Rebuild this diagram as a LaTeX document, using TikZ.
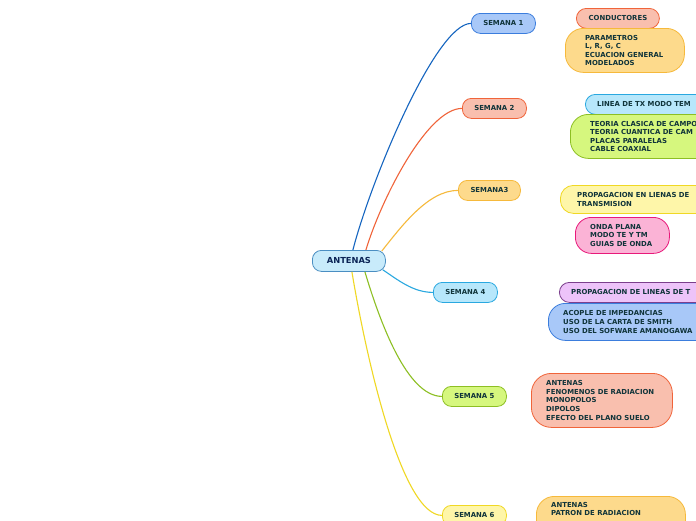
\documentclass[tikz,border=0pt]{standalone}
\usepackage{fontspec}
\setmainfont{DejaVu Sans}
\definecolor{txt}{HTML}{10343A}
\definecolor{roottxt}{HTML}{0B2456}
\definecolor{bluF}{HTML}{A8C8F8}\definecolor{bluD}{HTML}{3B7DDD}
\definecolor{redF}{HTML}{F9BFAE}\definecolor{redD}{HTML}{F0643A}
\definecolor{orgF}{HTML}{FDDA8C}\definecolor{orgD}{HTML}{F6B93B}
\definecolor{cyaF}{HTML}{B7E7FB}\definecolor{cyaD}{HTML}{29A8E0}
\definecolor{grnF}{HTML}{D6F77E}\definecolor{grnD}{HTML}{8DBF23}
\definecolor{yelF}{HTML}{FEF6A9}\definecolor{yelD}{HTML}{F0D824}
\definecolor{pnkF}{HTML}{FBB3D6}\definecolor{pnkD}{HTML}{E8197A}
\definecolor{purF}{HTML}{EDC3F9}\definecolor{purD}{HTML}{7B3F8C}
\definecolor{rootF}{HTML}{C8EBFB}\definecolor{rootD}{HTML}{4A8EC2}
\definecolor{e1}{HTML}{1565C0}
\newcommand\fsz{\fontsize{6.9}{8.6}\selectfont\bfseries}
\tikzset{
  every node/.style={font=\fsz, text=txt},
  pill/.style={draw, line width=0.8pt, rounded corners=#1, inner sep=0pt, anchor=north west},
  semana/.style={pill=9pt, minimum width=64pt, minimum height=20pt},
  ltext/.style={anchor=west, align=left, inner sep=0pt},
  edge/.style={line width=1.1pt},
}
\begin{document}
\begin{tikzpicture}[x=1pt,y=-1pt]
\useasboundingbox (0,0) rectangle (696,520);
\clip (0,0) rectangle (696,520);
\fill[white] (0,0) rectangle (696,520);

% root
\node[pill=9pt, fill=rootF, draw=rootD, minimum width=73pt, minimum height=21pt, font=\fontsize{8.3}{10}\selectfont\bfseries, text=roottxt] (root) at (312,250) {ANTENAS};

% semanas
\node[semana, fill=bluF, draw=bluD] (s1) at (471,13) {SEMANA 1};
\node[semana, fill=redF, draw=redD] (s2) at (462,98) {SEMANA 2};
\node[semana, minimum width=62pt, fill=orgF, draw=orgD] (s3) at (458,180) {SEMANA3};
\node[semana, fill=cyaF, draw=cyaD] (s4) at (433,282) {SEMANA 4};
\node[semana, fill=grnF, draw=grnD] (s5) at (442,386) {SEMANA 5};
\node[semana, fill=yelF, draw=yelD] (s6) at (442,505) {SEMANA 6};

% edges
\draw[edge, e1]   ([xshift=4pt]root.north) .. controls +(18,-70) and +(-35,0) .. (s1.west);
\draw[edge, redD] ([xshift=17pt]root.north) .. controls +(15,-50) and +(-35,0) .. (s2.west);
\draw[edge, orgD] ([xshift=-4pt,yshift=-1pt]root.north east) .. controls +(20,-25) and +(-30,0) .. (s3.west);
\draw[edge, cyaD] ([xshift=-3pt,yshift=2pt]root.south east) .. controls +(15,10) and +(-20,0) .. (s4.west);
\draw[edge, grnD] ([xshift=16pt]root.south) .. controls +(15,50) and +(-35,0) .. (s5.west);
\draw[edge, yelD] ([xshift=3pt]root.south) .. controls +(15,90) and +(-40,0) .. (s6.west);

% semana 1 children
\node[pill=10pt, fill=redF, draw=redD, minimum width=83pt, minimum height=20pt] (c1a) at (576,8) {CONDUCTORES};
\node[pill=18pt, fill=orgF, draw=orgD, minimum width=119pt, minimum height=44pt] (c1b) at (565,28) {};
\node[ltext] (c1bt) at ([xshift=20pt]c1b.west) {PARAMETROS\\L, R, G, C\\ECUACION GENERAL\\MODELADOS};

% semana 2 children
\node[pill=10pt, fill=cyaF, draw=cyaD, minimum width=125pt, minimum height=20pt] (c2a) at (585,94) {};
\node[ltext] (c2at) at ([xshift=12pt]c2a.west) {LINEA DE TX MODO TEM};
\node[pill=18pt, fill=grnF, draw=grnD, minimum width=170pt, minimum height=44pt] (c2b) at (570,114) {};
\node[ltext] (c2bt) at ([xshift=20pt]c2b.west) {TEORIA CLASICA DE CAMPO\\TEORIA CUANTICA DE CAM\\PLACAS PARALELAS\\CABLE COAXIAL};

% semana 3 children
\node[pill=13pt, fill=yelF, draw=yelD, minimum width=170pt, minimum height=28pt] (c3a) at (560,185) {};
\node[ltext] (c3at) at ([xshift=17pt]c3a.west) {PROPAGACION EN LIENAS DE\\TRANSMISION};
\node[pill=16pt, fill=pnkF, draw=pnkD, minimum width=94pt, minimum height=36pt] (c3b) at (575,217) {};
\node[ltext] (c3bt) at ([xshift=15pt]c3b.west) {ONDA PLANA\\MODO TE Y TM\\GUIAS DE ONDA};

% semana 4 children
\node[pill=10pt, fill=purF, draw=purD, minimum width=170pt, minimum height=20pt] (c4a) at (559,282) {};
\node[ltext] (c4at) at ([xshift=12pt]c4a.west) {PROPAGACION DE LINEAS DE T};
\node[pill=17pt, fill=bluF, draw=bluD, minimum width=170pt, minimum height=37pt] (c4b) at (548,303) {};
\node[ltext] (c4bt) at ([xshift=15pt]c4b.west) {ACOPLE DE IMPEDANCIAS\\USO DE LA CARTA DE SMITH\\USO DEL SOFWARE AMANOGAWA};

% semana 5 child
\node[pill=20pt, fill=redF, draw=redD, minimum width=141pt, minimum height=54pt] (c5a) at (531,373) {};
\node[ltext] (c5at) at ([xshift=15pt]c5a.west) {ANTENAS\\FENOMENOS DE RADIACION\\MONOPOLOS\\DIPOLOS\\EFECTO DEL PLANO SUELO};

% semana 6 child
\node[pill=18pt, fill=orgF, draw=orgD, minimum width=149pt, minimum height=44pt] (c6a) at (536,496) {};
\node[ltext, anchor=north west] (c6at) at ([xshift=15pt,yshift=-6pt]c6a.north west) {ANTENAS\\PATRON DE RADIACION};
\end{tikzpicture}
\end{document}
